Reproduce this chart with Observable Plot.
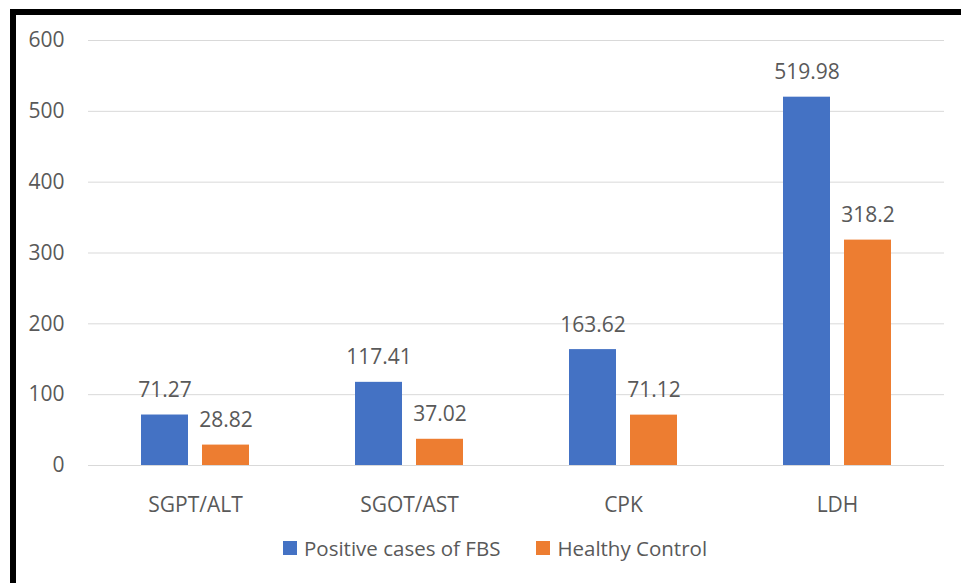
<!DOCTYPE html>
<html>
<head>
<meta charset="utf-8">
<script src="https://cdn.jsdelivr.net/npm/d3@7"></script>
<script src="https://cdn.jsdelivr.net/npm/@observablehq/plot@0.6"></script>
<style>
  html, body { margin: 0; padding: 0; background: #fff; }
  #wrap { position: relative; width: 961px; height: 583px; overflow: hidden; background: #fff; font-family: "Open Sans", sans-serif; }
  #chart { position: absolute; left: 0; top: 0; }
  #frame { position: absolute; left: 10px; top: 9px; width: 960px; height: 600px; border-left: 6px solid #000; border-top: 6px solid #000; box-sizing: border-box; pointer-events: none; }
  #legend { position: absolute; left: 283px; top: 534px; display: flex; align-items: center; font-size: 20.5px; color: #595959; white-space: nowrap; }
  .item { display: flex; align-items: center; margin-right: 36px; }
  .sw { width: 14px; height: 14px; margin-right: 7px; }
</style>
</head>
<body>
<div id="wrap">
  <div id="chart"></div>
  <div id="legend"></div>
  <div id="frame"></div>
</div>
<script>
const categories = ["SGPT/ALT", "SGOT/AST", "CPK", "LDH"];
const seriesNames = ["Positive cases of FBS", "Healthy Control"];
const positive = [71.27, 117.41, 163.62, 519.98];
const healthy = [28.82, 37.02, 71.12, 318.2];
const positiveLabels = ["71.27", "117.41", "163.62", "519.98"];
const healthyLabels = ["28.82", "37.02", "71.12", "318.2"];
const yTicks = [0, 100, 200, 300, 400, 500, 600];
const colors = ["#4472C4", "#ED7D31"];

const rows = [];
categories.forEach((c, i) => {
  rows.push({cat: c, series: seriesNames[0], value: positive[i], label: positiveLabels[i]});
  rows.push({cat: c, series: seriesNames[1], value: healthy[i], label: healthyLabels[i]});
});
const pos = rows.filter(d => d.series === seriesNames[0]);
const hc = rows.filter(d => d.series === seriesNames[1]);

const textColor = "#595959";
const inset = 61;
const off = 30.5;

const chart = Plot.plot({
  width: 961,
  height: 530,
  marginLeft: 88,
  marginRight: 17,
  marginTop: 40,
  marginBottom: 65,
  style: { fontFamily: "'Open Sans', sans-serif", fontSize: "21px", color: textColor, background: "transparent" },
  x: { domain: categories, paddingInner: 0.495, paddingOuter: 0.2475, label: null, tickSize: 0, tickPadding: 32 },
  y: { domain: [0, 600], ticks: yTicks, label: null, tickSize: 0, tickPadding: 24, grid: false },
  color: { domain: seriesNames, range: colors },
  marks: [
    Plot.ruleY(yTicks, { stroke: "#d9d9d9", strokeWidth: 1 }),
    Plot.barY(pos, { x: "cat", y: "value", fill: d => d.series, insetRight: inset }),
    Plot.barY(hc, { x: "cat", y: "value", fill: d => d.series, insetLeft: inset }),
    Plot.text(pos, { x: "cat", y: "value", text: "label", dx: -off, dy: -18, lineAnchor: "bottom", fill: textColor, fontSize: 21 }),
    Plot.text(hc, { x: "cat", y: "value", text: "label", dx: off, dy: -18, lineAnchor: "bottom", fill: textColor, fontSize: 21 })
  ]
});
document.getElementById("chart").appendChild(chart);

const legend = document.getElementById("legend");
seriesNames.forEach((name, i) => {
  const item = document.createElement("div");
  item.className = "item";
  const sw = document.createElement("div");
  sw.className = "sw";
  sw.style.background = colors[i];
  const t = document.createElement("span");
  t.textContent = name;
  item.appendChild(sw);
  item.appendChild(t);
  legend.appendChild(item);
});
</script>
</body>
</html>
